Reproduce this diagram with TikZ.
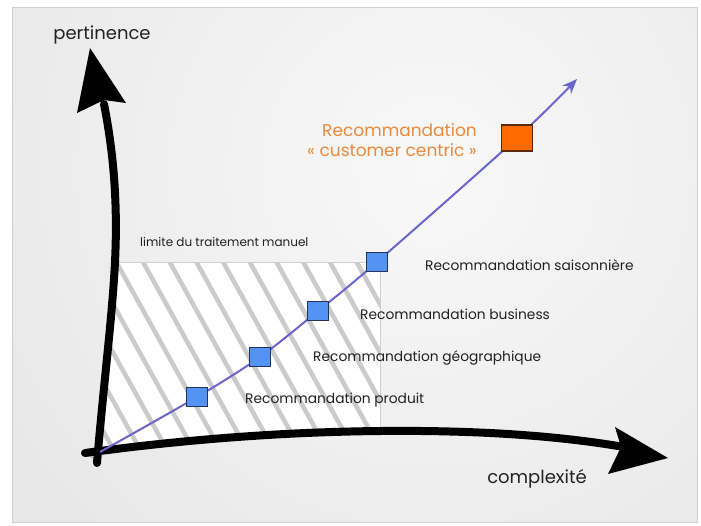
\documentclass[tikz,border=0pt]{standalone}
\usepackage{fontspec}
\setmainfont{Poppins}
\usetikzlibrary{arrows.meta}
\definecolor{panel_gray}{HTML}{E6E6E6}
\definecolor{panel_light}{HTML}{F8F8F8}
\definecolor{frame_gray}{HTML}{CFCFCF}
\definecolor{hatch_gray}{HTML}{CBCBCB}
\definecolor{curve_blue}{HTML}{6A66CC}
\definecolor{box_blue}{HTML}{5593F2}
\definecolor{box_edge}{HTML}{22345E}
\definecolor{top_orange}{HTML}{FF6A00}
\definecolor{top_edge}{HTML}{5A2A08}
\definecolor{text_orange}{HTML}{EA8A3C}
\definecolor{text_dark}{HTML}{222222}
\tikzset{
    axis_line/.style = {
        draw=black,
        line width=8pt,
        line cap=round
    },
    axis_head/.style = {
        fill=black
    },
    hatch_line/.style = {
        draw=hatch_gray,
        line width=4.5pt
    },
    limit_line/.style = {
        draw=frame_gray,
        line width=1pt
    },
    curve_line/.style = {
        draw=curve_blue,
        line width=2pt,
        -{Stealth[length=15pt,width=12pt]}
    },
    step_box/.style = {
        draw=box_edge,
        fill=box_blue,
        line width=1.2pt,
        minimum width=21pt,
        minimum height=19pt,
        inner sep=0pt
    },
    top_box/.style = {
        draw=top_edge,
        fill=top_orange,
        line width=1.4pt,
        minimum width=31pt,
        minimum height=26pt,
        inner sep=0pt
    },
    step_label/.style = {
        text=text_dark,
        anchor=west,
        inner sep=0pt,
        font=\fontsize{13.8}{16}\selectfont
    },
    axis_label/.style = {
        text=text_dark,
        inner sep=0pt,
        font=\fontsize{18}{21}\selectfont
    },
}

\begin{document}
\begin{tikzpicture}[x=1pt, y=-1pt]
                \useasboundingbox (0, 0) rectangle (701, 525);
                \begin{scope}
                    \clip (12, 7) rectangle (697, 522);
                    \shade[inner color=panel_light, outer color=panel_gray] (430, 170) circle (560);
                \end{scope}
                \path[limit_line] (12, 7) rectangle (697, 522);

                \begin{scope}
                    \clip (115, 262) -- (380, 262) -- (380, 431) .. controls (280, 432) and (180, 440) .. (85, 453) -- (97, 463) .. controls (104, 380) and (112, 320) .. (115, 262) -- cycle;
                    \fill[white] (80, 250) rectangle (390, 470);
                    \foreach \k in {-7,...,9}
                        \path[hatch_line] ({143+26.7*\k}, 262) -- ({143+26.7*\k+0.554*210}, 472);
                \end{scope}
                \path[limit_line] (115, 262) -- (380, 262) -- (380, 431);

                \path[axis_line] (97, 463) .. controls (104, 380) and (112, 320) .. (115, 262) .. controls (118, 200) and (113, 150) .. (104, 104);
                \path[axis_head] (90, 48) -- (126, 103) -- (104, 100) -- (77, 113) -- cycle;
                \path[axis_line] (85, 453) .. controls (180, 440) and (280, 432) .. (380, 431) .. controls (480, 430) and (560, 436) .. (624, 447);
                \path[axis_head] (668, 458) -- (615, 427) -- (621, 447) -- (608, 474) -- cycle;

                \coordinate (origin) at (100, 452);
                \coordinate (tip) at (577, 79);
                \coordinate (produit_pt) at (197, 397);
                \coordinate (geo_pt) at (260, 357);
                \coordinate (business_pt) at (318, 311);
                \coordinate (saison_pt) at (377, 262);
                \coordinate (centric_pt) at (517, 138);
                \draw[curve_line] plot[smooth, tension=0.55] coordinates {(origin) (produit_pt) (geo_pt) (business_pt) (saison_pt) (centric_pt) (tip)};

                \node[step_box] (produit) at (produit_pt) {};
                \node[step_box] (geo) at (geo_pt) {};
                \node[step_box] (business) at (business_pt) {};
                \node[step_box] (saison) at (saison_pt) {};
                \node[top_box] (centric) at (centric_pt) {};

                \node[step_label] (l_produit) at (245, 400) {Recommandation produit};
                \node[step_label] (l_geo) at (313, 358) {Recommandation géographique};
                \node[step_label] (l_business) at (360, 314) {Recommandation business};
                \node[step_label] (l_saison) at (425, 265) {Recommandation saisonnière};
                \node[step_label, font=\fontsize{12}{14}\selectfont] (l_limite) at (140, 242) {limite du traitement manuel};
                \node[text=text_orange, anchor=east, align=right, inner sep=0pt, font=\fontsize{17}{20}\selectfont] (l_centric) at (477, 140) {Recommandation\\« customer centric »};

                \node[axis_label] (l_pertinence) at (102, 35) {pertinence};
                \node[axis_label] (l_complexite) at (537, 479) {complexité};
            \end{tikzpicture}
\end{document}
